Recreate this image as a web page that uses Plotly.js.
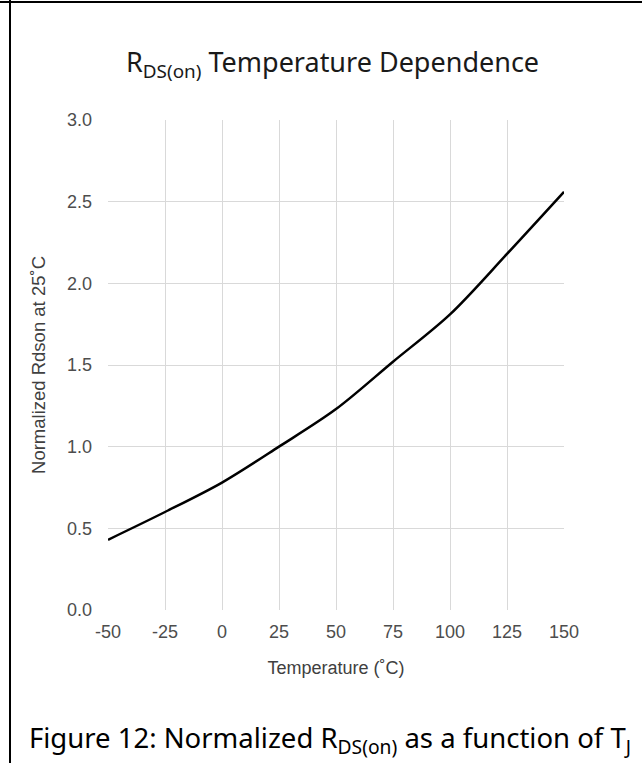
<!DOCTYPE html>
<html>
<head>
<meta charset="utf-8">
<script src="https://cdn.plot.ly/plotly-3.0.1.min.js"></script>
<style>
  html, body { margin: 0; padding: 0; background: #fff; }
  #wrap { position: relative; width: 642px; height: 763px; }
  #chart { width: 642px; height: 763px; }
  .vline { position: absolute; left: 9px; top: 0; width: 2px; height: 763px; background: #000; }
  .hline { position: absolute; left: 0; top: 1px; width: 642px; height: 2px; background: #000; }
</style>
</head>
<body>
<div id="wrap">
  <div id="chart"></div>
  <div class="vline"></div>
  <div class="hline"></div>
</div>
<script>
// Data
const temperatures = [-50, -25, 0, 25, 50, 75, 100, 125, 150];
const rdsonNormalized = [0.43, 0.60, 0.78, 1.00, 1.23, 1.52, 1.81, 2.18, 2.56];
const xTicks = [-50, -25, 0, 25, 50, 75, 100, 125, 150];
const yTicks = [0, 0.5, 1.0, 1.5, 2.0, 2.5, 3.0];

const chartTitle = 'R<sub>DS(on)</sub> Temperature Dependence';
const xTitle = 'Temperature (˚C)';
const yTitle = 'Normalized Rdson at 25˚C';
const caption = 'Figure 12: Normalized R<sub>DS(on)</sub> as a function of T<sub>J</sub>';

const trace = {
  x: temperatures,
  y: rdsonNormalized,
  type: 'scatter',
  mode: 'lines',
  line: { color: '#000000', width: 2.5, shape: 'spline', smoothing: 0.9 },
  hoverinfo: 'skip'
};

const axisFont = { family: 'Liberation Sans, Arial, sans-serif', size: 18, color: '#4d4d4d' };

const layout = {
  width: 642,
  height: 763,
  margin: { l: 108, r: 78, t: 120, b: 153, pad: 0 },
  paper_bgcolor: '#ffffff',
  plot_bgcolor: '#ffffff',
  showlegend: false,
  title: {
    text: chartTitle,
    font: { family: 'Noto Sans, Open Sans, sans-serif', size: 27, color: '#1a1a1a' },
    x: 0.518, xanchor: 'center',
    y: 0.918, yanchor: 'middle'
  },
  xaxis: {
    range: [-50, 150],
    tickmode: 'array',
    tickvals: xTicks,
    ticktext: xTicks.map(String),
    showgrid: true,
    gridcolor: '#d9d9d9',
    gridwidth: 1,
    zeroline: false,
    showline: false,
    ticks: '',
    ticklabelstandoff: 9,
    tickfont: axisFont,
    title: { text: xTitle, font: { family: 'Liberation Sans, Arial, sans-serif', size: 18, color: '#404040' }, standoff: 20 },
    fixedrange: true
  },
  yaxis: {
    range: [0, 3],
    tickmode: 'array',
    tickvals: yTicks,
    ticktext: yTicks.map(v => v.toFixed(1)),
    showgrid: true,
    gridcolor: '#d9d9d9',
    gridwidth: 1,
    zeroline: false,
    showline: false,
    ticks: '',
    ticklabelstandoff: 15,
    tickfont: axisFont,
    title: { text: yTitle, font: { family: 'Liberation Sans, Arial, sans-serif', size: 18.5, color: '#404040' }, standoff: 16 },
    fixedrange: true
  },
  annotations: [{
    text: caption,
    xref: 'paper', yref: 'paper',
    x: -0.178, y: -0.265,
    xanchor: 'left', yanchor: 'middle',
    showarrow: false,
    font: { family: 'Noto Sans, Open Sans, sans-serif', size: 27.5, color: '#000000' }
  }]
};

Plotly.newPlot('chart', [trace], layout, { displayModeBar: false, staticPlot: true });
</script>
</body>
</html>
